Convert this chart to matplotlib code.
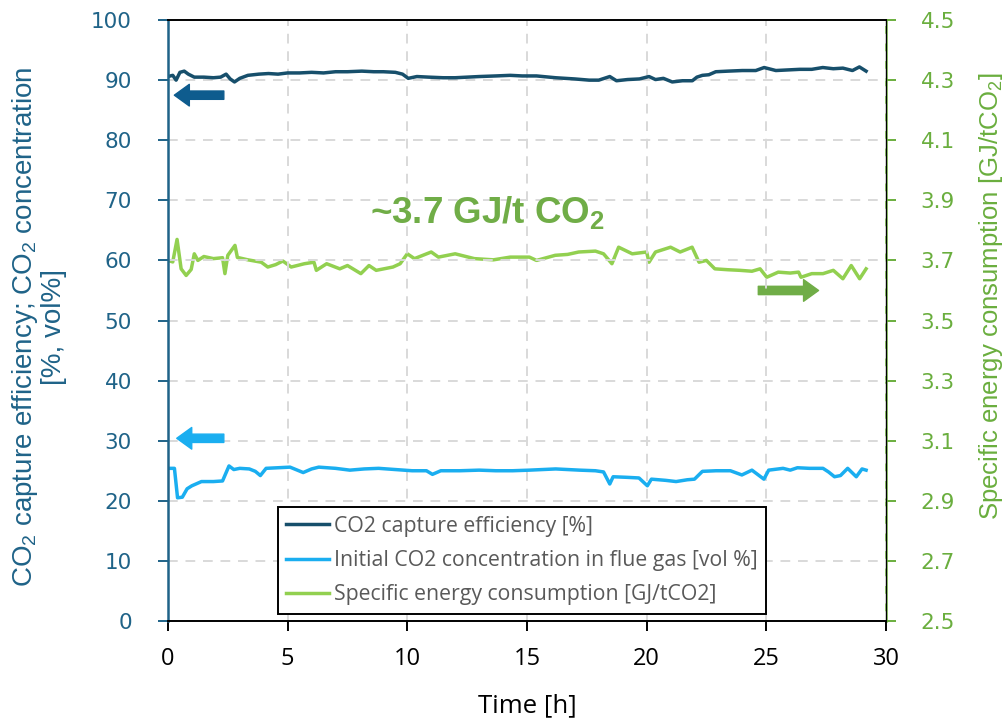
import matplotlib
matplotlib.use("Agg")
import matplotlib.pyplot as plt

plt.rcParams['font.family'] = ['Liberation Sans', 'DejaVu Sans']
plt.rcParams['mathtext.fontset'] = 'custom'
plt.rcParams['mathtext.rm'] = 'Liberation Sans'
plt.rcParams['mathtext.bf'] = 'Liberation Sans:bold'

# --- dane ---
t_eff = [0.0, 0.2, 0.34, 0.5, 0.68, 0.85, 1.1, 1.5, 1.9, 2.2, 2.43, 2.6, 2.78, 3.0, 3.34,
         3.8, 4.2, 4.6, 5.0, 5.5, 6.0, 6.5, 7.0, 7.5, 8.1, 8.6, 9.0, 9.5, 9.8, 10.04,
         10.4, 10.9, 11.5, 12.0, 12.5, 13.0, 13.7, 14.3, 14.8, 15.4, 16.2, 17.0, 17.6,
         18.0, 18.46, 18.74, 19.2, 19.7, 20.1, 20.37, 20.7, 21.07, 21.5, 21.91, 22.1,
         22.33, 22.6, 22.89, 23.4, 24.0, 24.56, 24.91, 25.4, 25.9, 26.4, 26.9, 27.36,
         27.8, 28.2, 28.6, 28.89, 29.17]
eff = [90.6, 90.8, 90.0, 91.3, 91.5, 91.0, 90.5, 90.5, 90.4, 90.5, 91.0, 90.2, 89.7, 90.3, 90.8,
       91.0, 91.1, 91.0, 91.2, 91.2, 91.3, 91.2, 91.4, 91.4, 91.5, 91.4, 91.4, 91.3, 91.0, 90.3,
       90.6, 90.5, 90.4, 90.4, 90.5, 90.6, 90.7, 90.8, 90.7, 90.7, 90.4, 90.2, 90.0,
       90.0, 90.6, 89.9, 90.1, 90.2, 90.6, 90.1, 90.3, 89.7, 89.9, 89.9, 90.5,
       90.8, 90.9, 91.4, 91.5, 91.6, 91.6, 92.1, 91.6, 91.7, 91.8, 91.8, 92.1,
       91.9, 92.0, 91.6, 92.2, 91.5]

t_conc = [0.0, 0.27, 0.4, 0.6, 0.8, 1.0, 1.4, 1.9, 2.28, 2.55, 2.75, 3.0, 3.4, 3.65, 3.86,
          4.1, 4.6, 5.1, 5.65, 6.0, 6.3, 7.0, 7.6, 8.2, 8.8, 9.5, 10.2, 10.8, 11.05, 11.4,
          12.2, 13.0, 13.7, 14.4, 15.1, 16.2, 17.2, 17.86, 18.2, 18.46, 18.6, 19.2, 19.68,
          20.03, 20.2, 20.8, 21.23, 21.7, 22.0, 22.33, 22.9, 23.5, 23.98, 24.4, 24.9, 25.1,
          25.7, 26.0, 26.3, 26.8, 27.37, 27.6, 27.85, 28.1, 28.4, 28.76, 29.0, 29.17]
conc = [25.4, 25.4, 20.5, 20.6, 22.0, 22.5, 23.2, 23.2, 23.3, 25.8, 25.2, 25.4, 25.3, 24.9, 24.2,
        25.4, 25.5, 25.6, 24.7, 25.3, 25.6, 25.4, 25.1, 25.3, 25.4, 25.2, 25.0, 25.0, 24.4, 25.0,
        25.0, 25.1, 25.0, 25.0, 25.1, 25.3, 25.1, 25.0, 24.8, 22.8, 24.0, 23.9, 23.8,
        22.5, 23.6, 23.4, 23.2, 23.5, 23.6, 24.9, 25.0, 25.0, 24.3, 25.1, 23.6, 25.1,
        25.4, 25.1, 25.5, 25.4, 25.4, 24.8, 24.0, 24.2, 25.4, 24.0, 25.3, 25.1]

t_sec = [0.0, 0.2, 0.38, 0.55, 0.76, 0.97, 1.1, 1.25, 1.5, 1.9, 2.28, 2.38, 2.5, 2.8, 2.9,
         3.34, 3.9, 4.17, 4.5, 4.8, 5.15, 5.7, 6.1, 6.2, 6.63, 7.18, 7.5, 8.06, 8.4, 8.7,
         9.4, 9.7, 10.0, 10.3, 11.0, 11.3, 12.0, 12.8, 13.6, 14.3, 15.1, 15.4, 16.18, 16.7,
         17.16, 17.86, 18.2, 18.55, 18.83, 19.4, 20.0, 20.1, 20.37, 21.0, 21.4, 21.9, 22.19,
         22.5, 22.85, 23.4, 23.9, 24.4, 24.74, 25.02, 25.5, 26.0, 26.35, 26.45, 26.9, 27.37,
         27.8, 28.2, 28.55, 28.9, 29.17]
sec = [3.700, 3.695, 3.770, 3.672, 3.650, 3.670, 3.722, 3.700, 3.713, 3.706, 3.709, 3.656, 3.717, 3.750, 3.710,
       3.702, 3.694, 3.678, 3.686, 3.698, 3.678, 3.689, 3.694, 3.667, 3.689, 3.672, 3.683, 3.656, 3.683, 3.667,
       3.678, 3.689, 3.722, 3.706, 3.728, 3.711, 3.722, 3.706, 3.702, 3.711, 3.711, 3.700, 3.717, 3.720,
       3.728, 3.731, 3.722, 3.689, 3.744, 3.722, 3.728, 3.694, 3.728, 3.744, 3.728, 3.744, 3.694,
       3.700, 3.672, 3.669, 3.667, 3.664, 3.672, 3.644, 3.661, 3.658, 3.661, 3.644, 3.656, 3.656,
       3.667, 3.639, 3.683, 3.639, 3.672]

labels = ['CO2 capture efficiency [%]',
          'Initial CO2 concentration in flue gas [vol %]',
          'Specific energy consumption [GJ/tCO2]']

c_eff = '#174F6B'
c_conc = '#1AAEF0'
c_sec = '#92D050'
c_left = '#1F6388'
c_right = '#6AAE3E'

fig = plt.figure(figsize=(10.07, 7.24), dpi=100)
ax = fig.add_axes([0.1668, 0.1423, 0.7130, 0.8300])
ax2 = ax.twinx()

l1, = ax.plot(t_eff, eff, color=c_eff, lw=2.5, label=labels[0])
l2, = ax.plot(t_conc, conc, color=c_conc, lw=2.5, label=labels[1])
l3, = ax2.plot(t_sec, sec, color=c_sec, lw=2.5, label=labels[2])

ax.set_xlim(0, 30)
ax.set_ylim(0, 100)
ax2.set_ylim(2.5, 4.5)
ax.set_xticks(range(0, 31, 5))
ax.set_yticks(range(0, 101, 10))
ax2.set_yticks([2.5, 2.7, 2.9, 3.1, 3.3, 3.5, 3.7, 3.9, 4.1, 4.3, 4.5])

ax.grid(True, color='#D9D9D9', ls=(0, (5, 4)), lw=1.4)
ax.set_axisbelow(True)

# osie
ax.tick_params(axis='x', colors='black', labelsize=17, length=7, width=1.4, pad=12)
ax.tick_params(axis='y', colors=c_left, labelsize=15.5, length=7, width=1.4, pad=19)
ax2.tick_params(axis='y', colors=c_right, labelsize=15.5, length=7, width=1.4, pad=18)
for lab in ax.get_xticklabels():
    lab.set_family(['Open Sans', 'DejaVu Sans'])
for lab in ax.get_yticklabels() + ax2.get_yticklabels():
    lab.set_family(['DejaVu Sans'])
ax.spines['left'].set_color(c_left)
ax.spines['left'].set_linewidth(1.8)
ax.spines['bottom'].set_linewidth(1.4)
ax.spines['top'].set_linewidth(1.4)
ax2.spines['right'].set_color(c_right)
ax2.spines['right'].set_linewidth(1.8)
ax2.spines['left'].set_visible(False)
ax2.spines['top'].set_visible(False)
ax2.spines['bottom'].set_visible(False)

ax.set_xlabel('Time [h]', fontsize=18.5, family=['Open Sans', 'DejaVu Sans'], labelpad=16)
ax.set_ylabel('CO$_2$ capture efficiency; CO$_2$ concentration\n[%, vol%]',
              fontsize=20, color=c_left, linespacing=1.05)
ax.yaxis.set_label_coords(-0.141, 0.49)
ax2.set_ylabel('Specific energy consumption [GJ/tCO$_2$]', fontsize=18.5, color=c_right)
ax2.yaxis.set_label_coords(1.127, 0.54)

# strzałki wskazujące osie
ax.annotate('', xy=(0.15, 87.5), xytext=(2.45, 87.5),
            arrowprops=dict(arrowstyle='simple,head_width=1.3,head_length=0.9,tail_width=0.5',
                            color='#0E5C8E', mutation_scale=12))
ax.annotate('', xy=(0.25, 30.4), xytext=(2.45, 30.4),
            arrowprops=dict(arrowstyle='simple,head_width=1.3,head_length=0.9,tail_width=0.5',
                            color=c_conc, mutation_scale=12))
ax2.annotate('', xy=(27.3, 3.6), xytext=(24.55, 3.6),
             arrowprops=dict(arrowstyle='simple,head_width=1.3,head_length=0.9,tail_width=0.5',
                             color='#70AD47', mutation_scale=12))

ax.text(13.35, 67.8, r'~3.7 GJ/t CO$_\mathbf{2}$', color='#70AD47', fontsize=26.5,
        fontweight='bold', ha='center', va='center')

leg = ax.legend(handles=[l1, l2, l3], loc='lower left', bbox_to_anchor=(0.153, 0.012),
                fontsize=15.3, fancybox=False, framealpha=1, edgecolor='black',
                handlelength=2.0, labelspacing=0.62, borderpad=0.4, handletextpad=0.25,
                borderaxespad=0)
leg.get_frame().set_linewidth(1.4)
for txt in leg.get_texts():
    txt.set_color('#595959')
    txt.set_family(['Open Sans', 'DejaVu Sans'])
ax.set_zorder(ax2.get_zorder() + 1)
ax.patch.set_visible(False)

fig.savefig('out.png', dpi=100)
